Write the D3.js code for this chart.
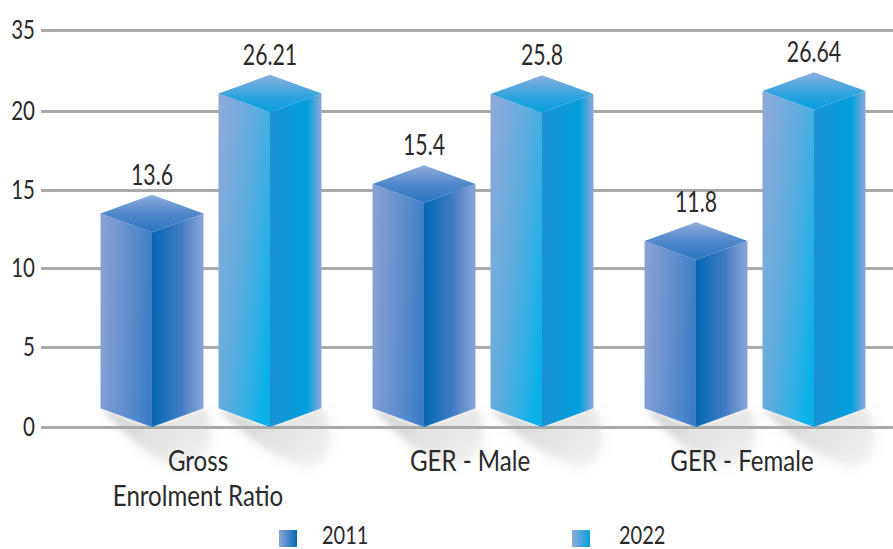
<!DOCTYPE html>
<html><head><meta charset="utf-8">
<script src="https://cdn.jsdelivr.net/npm/d3@7"></script>
<style>
html,body{margin:0;padding:0;background:#fff}
svg{display:block}
text{font-family:Lato,"Liberation Sans",sans-serif;font-weight:400;fill:#2b2a2b}
</style></head><body><svg id="c" width="893" height="549"></svg>
<script>
const categories = ["Gross Enrolment Ratio", "GER - Male", "GER - Female"];
const categoryLines = [["Gross", "Enrolment Ratio"], ["GER - Male"], ["GER - Female"]];
const series = ["2011", "2022"];
const values2011 = [13.6, 15.4, 11.8];
const values2022 = [26.21, 25.8, 26.64];
const tickValues = [0, 5, 10, 15, 20, 35];

// The source's value axis is not linear above 20: the printed tick jumps to 35
const y = d3.scaleLinear()
  .domain([0,5,10,11.8,13.6,15,15.4,20,25.8,26.21,26.64,35])
  .range([427,347,268,241,213.5,190,184,111,94,93.5,91,30]);
const x0 = d3.scaleBand().domain(categories).range([75,891]);
const x1 = d3.scalePoint().domain(series).range([-59,59]);
const halfW = 51.5, depth = 18.7, W = 893, squeeze = 0.76, labelSqueeze = 0.86;

const svg = d3.select("#c");
const defs = svg.append("defs");
function grad(id, stops, x1g, y1g, x2g, y2g){
  const g = defs.append("linearGradient").attr("id",id)
    .attr("x1",x1g).attr("y1",y1g).attr("x2",x2g).attr("y2",y2g);
  stops.forEach(s=>g.append("stop").attr("offset",s[0]).attr("stop-color",s[1]));
}
grad("l2011",[[0,"#8ba3d7"],[1,"#3f7fc6"]],0,0,1,0.12);
grad("r2011",[[0,"#0367b4"],[0.55,"#3f7cc2"],[1,"#8ea5d8"]],0,0,1,0);
grad("t2011",[[0,"#8eacdc"],[0.5,"#5288cb"],[1,"#2a76bf"]],0,0,0,1);
grad("l2022",[[0,"#8eaadb"],[0.55,"#58ade0"],[1,"#09b1e8"]],0,0.1,1,0.75);
grad("r2022",[[0,"#1a92d5"],[0.72,"#029fdc"],[1,"#8ba9da"]],0,0,1,0);
grad("t2022",[[0,"#8cafde"],[0.6,"#2ca2dd"],[1,"#04a0dc"]],0,0,0,1);
grad("shadow",[[0,"#cdcdcd"],[0.6,"#e4e4e4"],[1,"#efefef"]],0,0,1,0.6);
grad("leg2011",[[0,"#8fa6d9"],[1,"#0368b5"]],0,0,1,0);
grad("leg2022",[[0,"#8fa9da"],[1,"#04a0dc"]],0,0,1,0);
defs.append("filter").attr("id","b1").attr("x","-30%").attr("y","-30%").attr("width","160%").attr("height","160%")
  .append("feGaussianBlur").attr("stdDeviation",3);
defs.append("filter").attr("id","b2").attr("x","-30%").attr("y","-30%").attr("width","160%").attr("height","160%")
  .append("feGaussianBlur").attr("stdDeviation",9);

const rows = categories.flatMap((c,i)=>[
  {cat:c,s:"2011",v:values2011[i]},
  {cat:c,s:"2022",v:values2022[i]}
]);
const cx = d => x0(d.cat)+x0.bandwidth()/2+x1(d.s);
const base = y(0);
const lift = depth;

// shadows
const shadowPath = d => {
  const c = cx(d), reach = d.s==="2011" ? 28 : 42;
  return `M${c-halfW},${base-lift} L${c},${base} L${c+halfW},${base-lift} `+
    `C${c+62},${base-2} ${c+64},${base+30} ${c+reach+2},${base+37} `+
    `C${c+reach-12},${base+40} ${c-6},${base+28} ${c-halfW},${base-lift} Z`;
};
const sh = svg.append("g");
sh.selectAll("path.o").data(rows).join("path").attr("d",shadowPath).attr("fill","#e6e6e6").attr("opacity",0.5).attr("filter","url(#b2)");
sh.selectAll("path.i").data(rows).join("path").attr("d",shadowPath).attr("fill","url(#shadow)").attr("filter","url(#b1)");

// axis
const axis = svg.append("g").attr("transform","translate(41,0)")
  .call(d3.axisLeft(y).tickValues(tickValues).tickSize(-(W-41)).tickPadding(6));
axis.select(".domain").remove();
axis.selectAll(".tick line").attr("stroke","#a9a9a9").attr("stroke-width",3);
axis.selectAll(".tick text").attr("font-size",27).attr("dy",null).attr("x",0).attr("y",0)
  .attr("transform",`translate(-6,8) scale(${squeeze},1)`).style("fill","#2b2a2b");

// bars
const bars = svg.append("g").selectAll("g").data(rows).join("g");
bars.append("path").attr("fill",d=>`url(#l${d.s})`)
  .attr("d",d=>{const c=cx(d),t=y(d.v);return `M${c-halfW},${t} L${c},${t+lift} L${c},${base} L${c-halfW},${base-lift} Z`;});
bars.append("path").attr("fill",d=>`url(#r${d.s})`)
  .attr("d",d=>{const c=cx(d),t=y(d.v);return `M${c},${t+lift} L${c+halfW},${t} L${c+halfW},${base-lift} L${c},${base} Z`;});
bars.append("path").attr("fill",d=>`url(#t${d.s})`)
  .attr("d",d=>{const c=cx(d),t=y(d.v);return `M${c-halfW},${t} L${c},${t-lift} L${c+halfW},${t} L${c},${t+lift} Z`;});
bars.append("text").attr("text-anchor","middle").attr("font-size",28)
  .attr("transform",d=>`translate(${cx(d)},${y(d.v)-lift-10}) scale(${squeeze},1)`).text(d=>d.v);

// category labels
svg.append("g").selectAll("text").data(categories).join("text")
  .attr("text-anchor","middle").attr("font-size",28)
  .attr("transform",c=>`translate(${x0(c)+x0.bandwidth()/2-13},471) scale(${labelSqueeze},1)`)
  .selectAll("tspan").data((c,i)=>categoryLines[i]).join("tspan")
  .attr("x",0).attr("dy",(d,i)=>i?35:0).text(d=>d);

// legend
const legX = d3.scalePoint().domain(series).range([279,572]);
const legTextX = d3.scalePoint().domain(series).range([322,619]);
const lg = svg.append("g").selectAll("g").data(series).join("g");
lg.append("rect").attr("x",legX).attr("y",530).attr("width",18).attr("height",17).attr("fill",s=>`url(#leg${s})`);
lg.append("text").attr("font-size",25).attr("transform",s=>`translate(${legTextX(s)},543.5) scale(0.8,1)`).text(s=>s);
</script></body></html>
